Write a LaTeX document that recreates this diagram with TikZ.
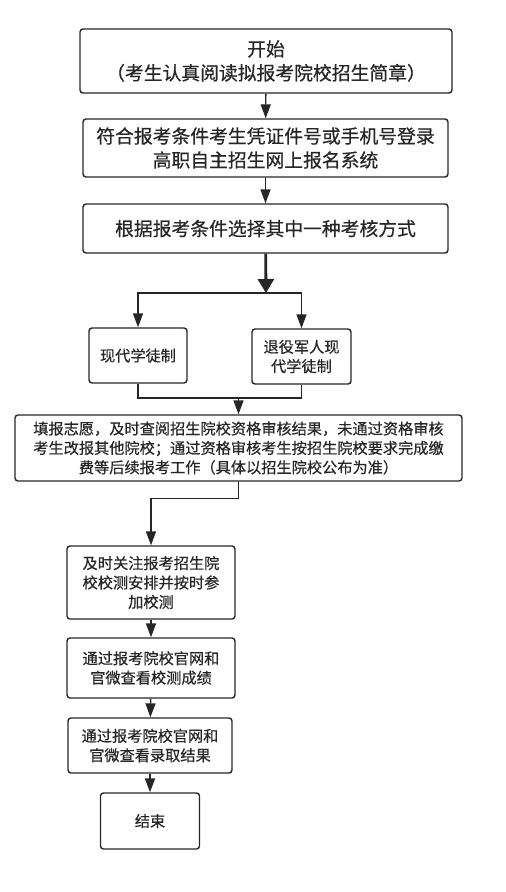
\documentclass[tikz,border=0pt]{standalone}
\usepackage{fontspec}
\setmainfont{Noto Sans CJK SC}[FakeBold=0.5]
\usetikzlibrary{arrows.meta}
\begin{document}
\begin{tikzpicture}[x=1pt, y=-1pt,
		box/.style={draw=black!85, line width=1.4pt, rounded corners=3pt, align=center, inner sep=0pt, text=black!85},
		bigbox/.style={box, font={\fontsize{18.8}{24}\selectfont}},
		smallbox/.style={box, font={\fontsize{15.2}{19.4}\selectfont}},
		arr/.style={draw=black!85, line width=1.4pt, -{Triangle[length=14pt, width=10pt]}},
		line/.style={draw=black!85, line width=1.4pt}]
		\useasboundingbox (0,0) rectangle (506,892);
		% main column
		\node[bigbox, minimum width=372pt, minimum height=64pt] (start) at (266,61) {开始\\（考生认真阅读拟报考院校招生简章）};
		\node[bigbox, minimum width=365pt, minimum height=58pt] (login) at (265.5,148) {符合报考条件考生凭证件号或手机号登录\\高职自主招生网上报名系统};
		\node[bigbox, minimum width=365pt, minimum height=49pt] (choose) at (265.5,228.5) {根据报考条件选择其中一种考核方式};
		% two ways
		\node[smallbox, minimum width=98pt, minimum height=55pt] (modern) at (138,355.5) {现代学徒制};
		\node[smallbox, minimum width=99pt, minimum height=55pt] (veteran) at (301.5,356.5) {退役军人现\\代学徒制};
		\node[smallbox, minimum width=447pt, minimum height=66pt] (apply) at (238.5,448) {填报志愿，及时查阅招生院校资格审核结果，未通过资格审核\\考生改报其他院校；通过资格审核考生按招生院校要求完成缴\\费等后续报考工作（具体以招生院校公布为准）};
		% lower column
		\node[smallbox, minimum width=168pt, minimum height=73pt] (test) at (151,582.5) {及时关注报考招生院\\校校测安排并按时参\\加校测};
		\node[smallbox, minimum width=168pt, minimum height=60pt] (score) at (151,668) {通过报考院校官网和\\官微查看校测成绩};
		\node[smallbox, minimum width=164pt, minimum height=55pt] (result) at (150,745.5) {通过报考院校官网和\\官微查看录取结果};
		\node[smallbox, minimum width=99pt, minimum height=56pt] (finish) at (150,821) {结束};
		\coordinate (split) at (266,293);
		\coordinate (merge) at (238.5,398);
		% connectors
		\draw[arr] (start) -- (login);
		\draw[arr] (login) -- (choose);
		\draw[draw=black!85, line width=2.8pt, -{Triangle[length=14pt, width=16pt]}] (choose) -- (split);
		\draw[arr] (split) -| (modern.north);
		\draw[arr] (split) -| (veteran.north);
		\draw[line] (modern.south) |- (merge);
		\draw[line] (veteran.south) |- (merge);
		\draw[arr] (merge) -- (apply);
		\draw[arr] (apply.south) -- ++(0,17) -| (test.north);
		\draw[arr] (test) -- (score);
		\draw[arr] (score) -- (result);
		\draw[arr] (result) -- (finish);
\end{tikzpicture}
\end{document}
